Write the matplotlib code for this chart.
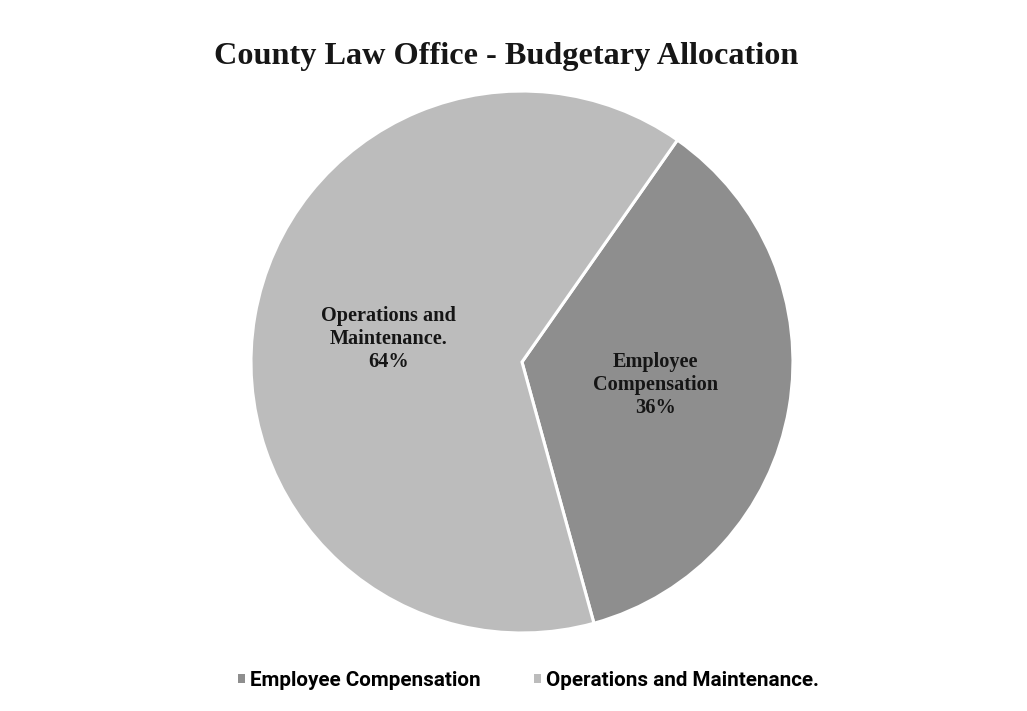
import matplotlib
matplotlib.use("Agg")
import matplotlib.pyplot as plt
from matplotlib.patches import Patch
import numpy as np

# Budget shares (percent)
categories = ["Employee Compensation", "Operations and Maintenance."]
shares = [36, 64]
slice_labels = ["Employee\nCompensation\n36%", "Operations and\nMaintenance.\n64%"]
colors = ["#8e8e8e", "#bcbcbc"]
title = "County Law Office - Budgetary Allocation"

fig = plt.figure(figsize=(10.27, 7.11), dpi=100)
fig.patch.set_facecolor("white")

ax = fig.add_axes([0.2444, 0.1097, 0.5277, 0.7623])
wedges, _ = ax.pie(
    shares,
    colors=colors,
    startangle=55,
    counterclock=False,
    wedgeprops=dict(edgecolor="white", linewidth=2.2),
)
ax.set_aspect("equal")
ax.set_xlim(-1, 1)
ax.set_ylim(-1, 1)

# Slice labels placed at half radius along each wedge's bisector
for w, lab in zip(wedges, slice_labels):
    mid = np.deg2rad((w.theta1 + w.theta2) / 2)
    ax.text(0.5 * np.cos(mid), 0.5 * np.sin(mid), lab,
            ha="center", va="center", fontsize=14.6, fontweight="bold",
            family="Liberation Serif", color="#151515", linespacing=1.18)

fig.text(0.4925, 0.92, title, ha="center", va="center",
         fontsize=23.2, fontweight="bold", family="Liberation Serif", color="#161616")

handles = [Patch(facecolor=c, edgecolor="none") for c in colors]
fig.legend(handles, categories, loc="center", bbox_to_anchor=(0.5146, 0.043),
           ncol=2, frameon=False, handlelength=0.35, handleheight=0.35,
           handletextpad=0.25, columnspacing=2.55,
           prop=dict(family="Roboto", weight="bold", size=14.9))

fig.savefig("out.png", dpi=100, facecolor="white")
